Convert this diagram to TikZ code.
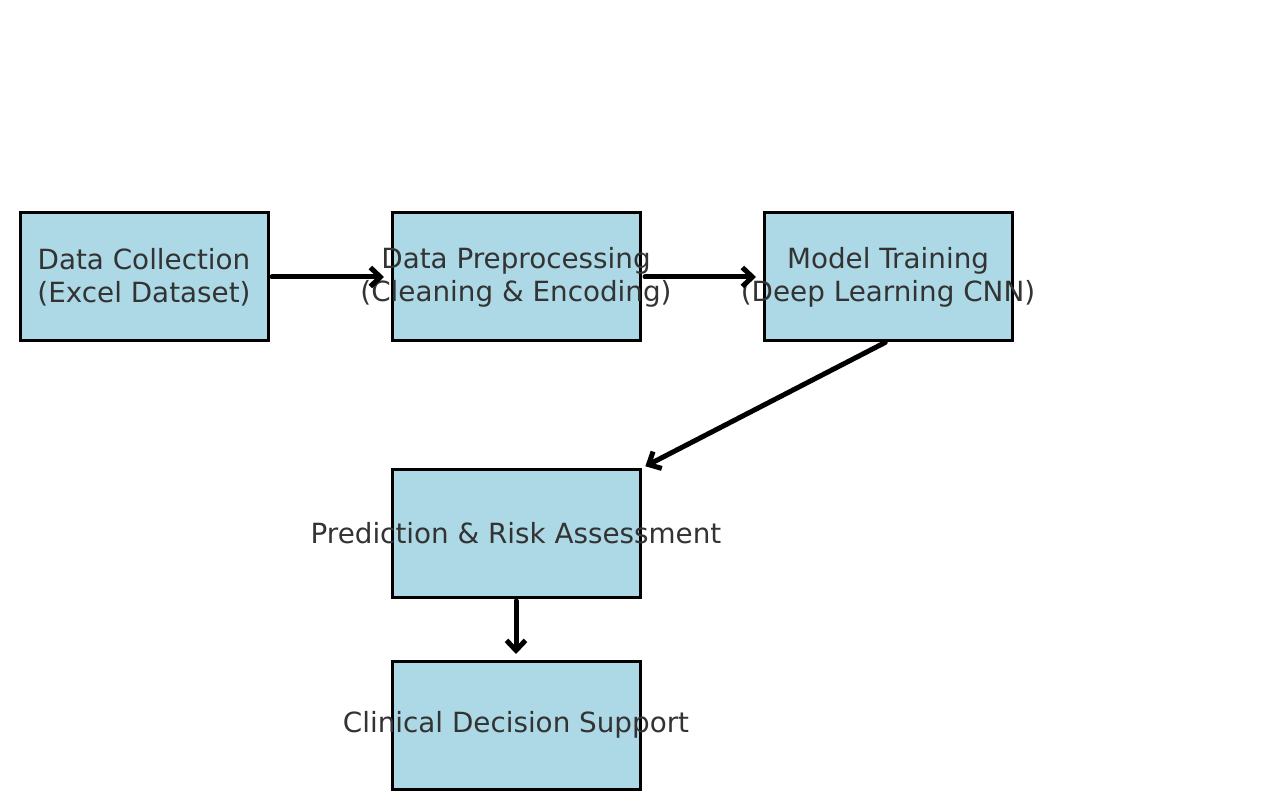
\documentclass[tikz,border=0pt]{standalone}
\usepackage{fontspec}
\setmainfont{DejaVu Sans}
\usepackage{xcolor}
\usetikzlibrary{arrows.meta,positioning}

\definecolor{boxfill}{HTML}{ADD8E6}
\definecolor{boxtext}{HTML}{333333}

\tikzset{
  stage/.style={draw=black,fill=boxfill,line width=3pt,minimum width=248pt,minimum height=128pt,inner sep=0pt,outer sep=0pt},
  caption/.style={text=boxtext,align=center,font=\fontsize{27.8}{33}\selectfont},
  flow/.style={line width=5pt,line cap=round,line join=round,-{Straight Barb[length=10pt,width=19pt]}}
}

\begin{document}
\begin{tikzpicture}[node distance=124pt]
\useasboundingbox (0,0) rectangle (1280pt,-810pt);
\node[stage,label={[caption]center:Data Collection\\(Excel Dataset)}] (collect) at (144pt,-277pt) {};
\node[stage,right=of collect,label={[caption]center:Data Preprocessing\\(Cleaning \& Encoding)}] (prep) {};
\node[stage,right=of prep,label={[caption]center:Model Training\\(Deep Learning CNN)}] (train) {};
\node[stage,below=128pt of prep,label={[caption]center:Prediction \& Risk Assessment}] (predict) {};
\node[stage,below=64pt of predict,label={[caption]center:Clinical Decision Support}] (support) {};

\draw[flow,shorten <=4pt,shorten >=8pt] (collect)--(prep);
\draw[flow,shorten <=5pt,shorten >=8pt] (prep)--(train);
\draw[flow,shorten <=3pt,shorten >=6pt] (train.south)--(predict.north east);
\draw[flow,shorten <=4pt,shorten >=7pt] (predict)--(support);
\end{tikzpicture}
\end{document}
